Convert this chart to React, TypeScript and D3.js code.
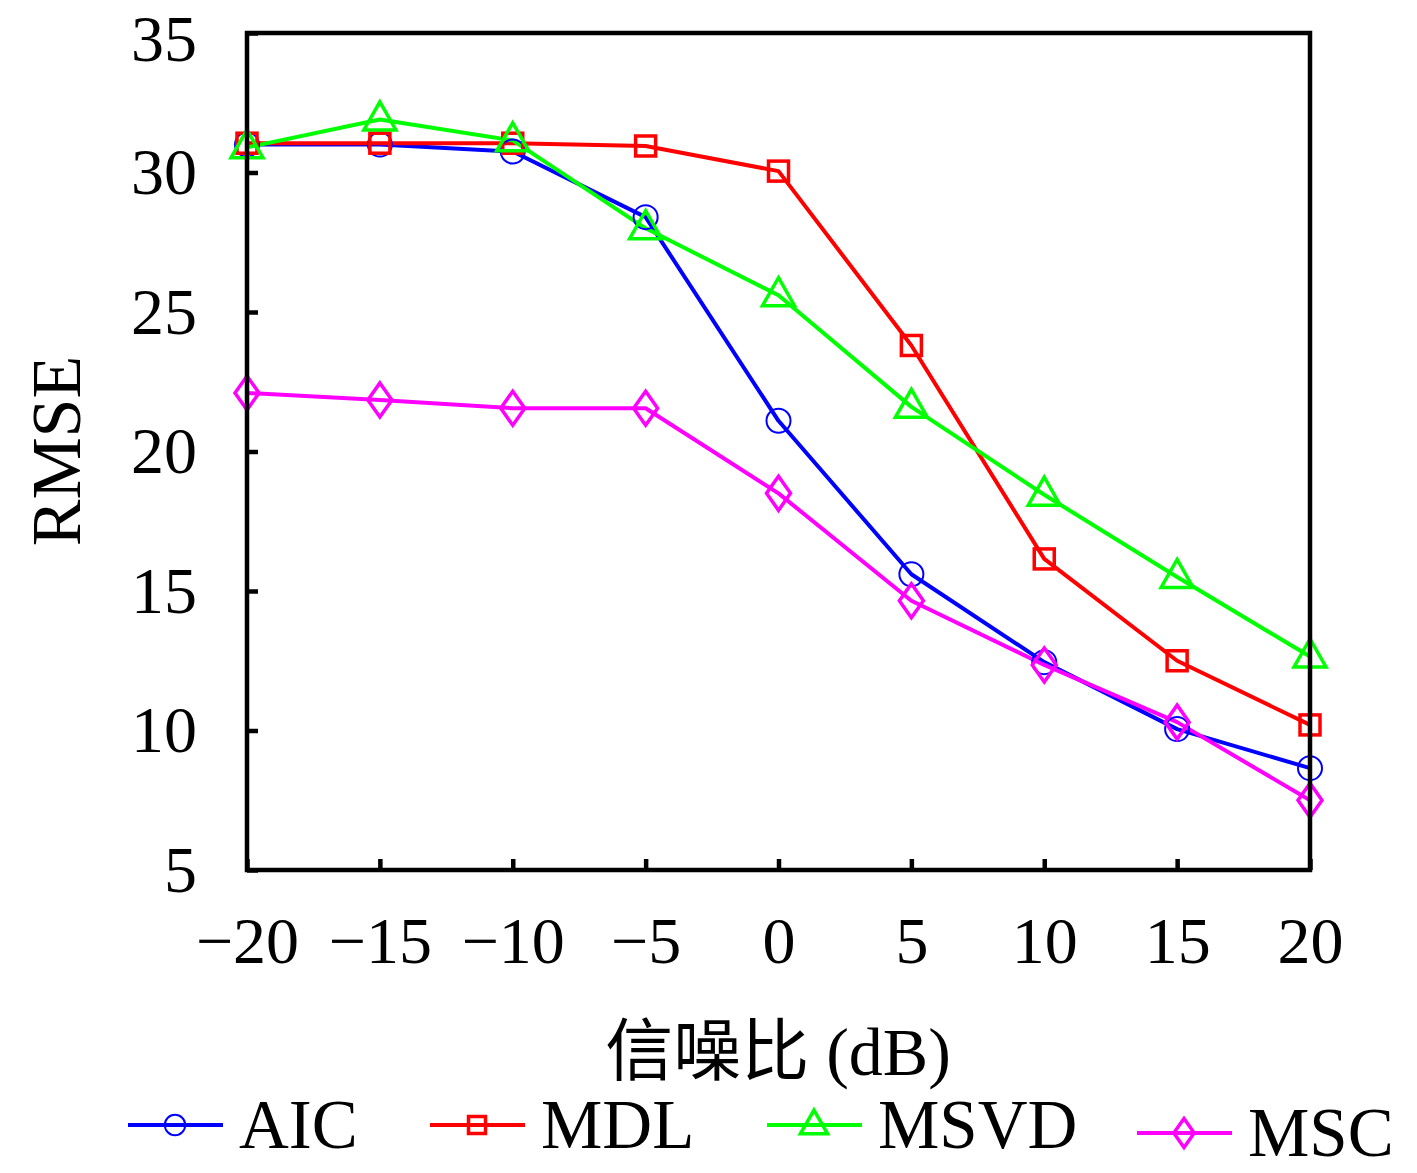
import { useEffect, useRef } from "react";
import * as d3 from "d3";

const WIDTH = 1417;
const HEIGHT = 1173;
const MARGIN = { top: 33, right: 107, bottom: 303, left: 247 };

const snr = [-20, -15, -10, -5, 0, 5, 10, 15, 20];
const aic = [31.0, 31.0, 30.75, 28.4, 21.1, 15.6, 12.45, 10.05, 8.65];
const mdl = [31.05, 31.05, 31.05, 30.95, 30.05, 23.8, 16.15, 12.5, 10.2];
const msvd = [30.9, 31.9, 31.15, 28.0, 25.6, 21.6, 18.45, 15.5, 12.65];
const msc = [22.1, 21.85, 21.55, 21.55, 18.5, 14.65, 12.35, 10.3, 7.5];

const yTicks = [5, 10, 15, 20, 25, 30, 35];
const xTicks = [-20, -15, -10, -5, 0, 5, 10, 15, 20];

const series = [
  { name: "AIC", values: aic, color: "#0000ff", marker: "circle" },
  { name: "MDL", values: mdl, color: "#ff0000", marker: "square" },
  { name: "MSVD", values: msvd, color: "#00ff00", marker: "triangle" },
  { name: "MSC", values: msc, color: "#ff00ff", marker: "diamond" },
];

const FONT = "'Liberation Serif', 'Noto Sans CJK SC', serif";

// draw a marker shape centred at (0,0)
const drawMarker = (g: any, marker: string, color: string, scale = 1) => {
  if (marker === "circle") {
    g.append("ellipse")
      .attr("rx", 12 * scale)
      .attr("ry", 12 * scale)
      .attr("fill", "none")
      .attr("stroke", color)
      .attr("stroke-width", 2);
  } else if (marker === "square") {
    const s = 10 * scale;
    g.append("rect")
      .attr("x", -s)
      .attr("y", -s)
      .attr("width", 2 * s)
      .attr("height", 2 * s)
      .attr("fill", "none")
      .attr("stroke", color)
      .attr("stroke-width", 3.5);
  } else if (marker === "triangle") {
    const s = 16 * scale;
    g.append("path")
      .attr("d", `M0,${-s * 1.1} L${s},${s * 0.65} L${-s},${s * 0.65} Z`)
      .attr("fill", "none")
      .attr("stroke", color)
      .attr("stroke-width", 3.5);
  } else {
    const w = 12 * scale;
    const h = 17 * scale;
    g.append("path")
      .attr("d", `M0,${-h} L${w},0 L0,${h} L${-w},0 Z`)
      .attr("fill", "none")
      .attr("stroke", color)
      .attr("stroke-width", 3.5);
  }
};

export default function App() {
  const ref = useRef<SVGSVGElement>(null);

  useEffect(() => {
    const svg = d3.select(ref.current);
    svg.selectAll("*").remove();

    const boundsWidth = WIDTH - MARGIN.left - MARGIN.right;
    const boundsHeight = HEIGHT - MARGIN.top - MARGIN.bottom;

    const xScale = d3.scaleLinear().domain([-20, 20]).range([0, boundsWidth]);
    const yScale = d3.scaleLinear().domain([5, 35]).range([boundsHeight, 0]);

    const g = svg
      .append("g")
      .attr("transform", `translate(${MARGIN.left},${MARGIN.top})`);

    // series lines
    const line = d3
      .line<number>()
      .x((_, i) => xScale(snr[i]))
      .y((d) => yScale(d));

    series.forEach((s) => {
      g.append("path")
        .attr("d", line(s.values))
        .attr("fill", "none")
        .attr("stroke", s.color)
        .attr("stroke-width", 4)
        .attr("stroke-linejoin", "round");
    });

    series.forEach((s) => {
      s.values.forEach((v, i) => {
        const m = g
          .append("g")
          .attr("transform", `translate(${xScale(snr[i])},${yScale(v)})`);
        drawMarker(m, s.marker, s.color);
      });
    });

    // box
    g.append("rect")
      .attr("width", boundsWidth)
      .attr("height", boundsHeight)
      .attr("fill", "none")
      .attr("stroke", "#000")
      .attr("stroke-width", 4.5);

    // y axis
    const yAxis = g
      .append("g")
      .call(d3.axisLeft(yScale).tickValues(yTicks).tickSize(-11).tickPadding(50));
    yAxis.select(".domain").remove();
    yAxis.selectAll(".tick line").attr("stroke", "#000").attr("stroke-width", 4.5);
    yAxis
      .selectAll(".tick text")
      .attr("font-family", FONT)
      .attr("font-size", 66)
      .attr("fill", "#000")
      // top label sits a little lower, as in the reference
      .attr("y", (d: any) => (d === 35 ? 6 : 0));

    // x axis
    const xAxis = g
      .append("g")
      .attr("transform", `translate(0,${boundsHeight})`)
      .call(
        d3
          .axisBottom(xScale)
          .tickValues(xTicks)
          .tickSize(-11)
          .tickPadding(46)
          .tickFormat((d) => (+d < 0 ? `\u2212${Math.abs(+d)}` : `${d}`))
      );
    xAxis.select(".domain").remove();
    xAxis.selectAll(".tick line").attr("stroke", "#000").attr("stroke-width", 4.5);
    xAxis
      .selectAll(".tick text")
      .attr("font-family", FONT)
      .attr("font-size", 66)
      .attr("fill", "#000");

    // axis titles
    svg
      .append("text")
      .attr("x", 778)
      .attr("y", 1075)
      .attr("text-anchor", "middle")
      .attr("font-family", FONT)
      .attr("font-size", 68)
      .text("信噪比 (dB)");

    svg
      .append("text")
      .attr("transform", `translate(80,451) rotate(-90)`)
      .attr("text-anchor", "middle")
      .attr("font-family", FONT)
      .attr("font-size", 70)
      .text("RMSE");

    // legend
    const legendX = [128, 430, 767, 1137];
    const legendY = [1125, 1125, 1125, 1133];
    series.forEach((s, i) => {
      const lg = svg
        .append("g")
        .attr("transform", `translate(${legendX[i]},${legendY[i]})`);
      lg.append("line")
        .attr("x1", 0)
        .attr("x2", 95)
        .attr("stroke", s.color)
        .attr("stroke-width", 4);
      const m = lg.append("g").attr("transform", "translate(47,0)");
      drawMarker(m, s.marker, s.color, 0.85);
      lg.append("text")
        .attr("x", 111)
        .attr("y", 23)
        .attr("font-family", FONT)
        .attr("font-size", 69)
        .text(s.name);
    });
  }, []);

  return (
    <svg
      ref={ref}
      width={WIDTH}
      height={HEIGHT}
      style={{ position: "absolute", left: 0, top: 0, background: "#fff" }}
    />
  );
}
